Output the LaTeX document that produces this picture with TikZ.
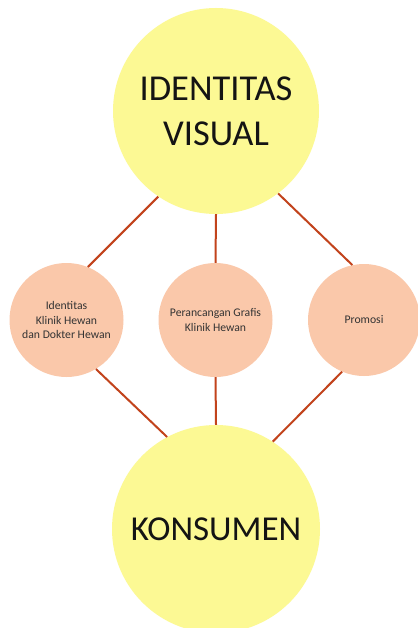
\documentclass[tikz,border=0pt]{standalone}
\usepackage{fontspec}
\setmainfont{Carlito}
\definecolor{bigfill}{HTML}{FCF994}
\definecolor{smallfill}{HTML}{FAC8AA}
\definecolor{linkcol}{HTML}{C2431C}
\definecolor{smalltext}{HTML}{333333}
\begin{document}
\begin{tikzpicture}[x=1pt,y=-1pt,
  bigcircle/.style={circle,fill=bigfill,draw=none,inner sep=0pt,minimum size=206pt,align=center,text=black!92,font=\fontsize{36.5}{45}\selectfont},
  smallcircle/.style={circle,fill=smallfill,draw=none,inner sep=0pt,minimum size=114pt,align=center,text=smalltext,font=\fontsize{11.7}{14.5}\selectfont},
  link/.style={draw=linkcol,line width=2pt}]
\useasboundingbox (0,0) rectangle (417,628);
\fill[white] (0,0) rectangle (417,628);
\node[bigcircle] (top) at (216,111) {IDENTITAS\\VISUAL};
\node[bigcircle,minimum size=208pt,font=\fontsize{35}{45}\selectfont] (bottom) at (216,529) {KONSUMEN};
\node[smallcircle] (left) at (66.5,320) {Identitas\\Klinik Hewan\\dan Dokter Hewan};
\node[smallcircle] (mid) at (215.5,320) {Perancangan Grafis\\Klinik Hewan};
\node[smallcircle,minimum size=112pt] (right) at (364,320) {Promosi};
\draw[link] (top.236) -- (left.68);
\draw[link] (top.south) -- (mid.north);
\draw[link] (top.307) -- (right.102);
\draw[link] (left.301) -- (bottom.118);
\draw[link] (mid.south) -- (bottom.north);
\draw[link] (right.247) -- (bottom.57);
\end{tikzpicture}
\end{document}
